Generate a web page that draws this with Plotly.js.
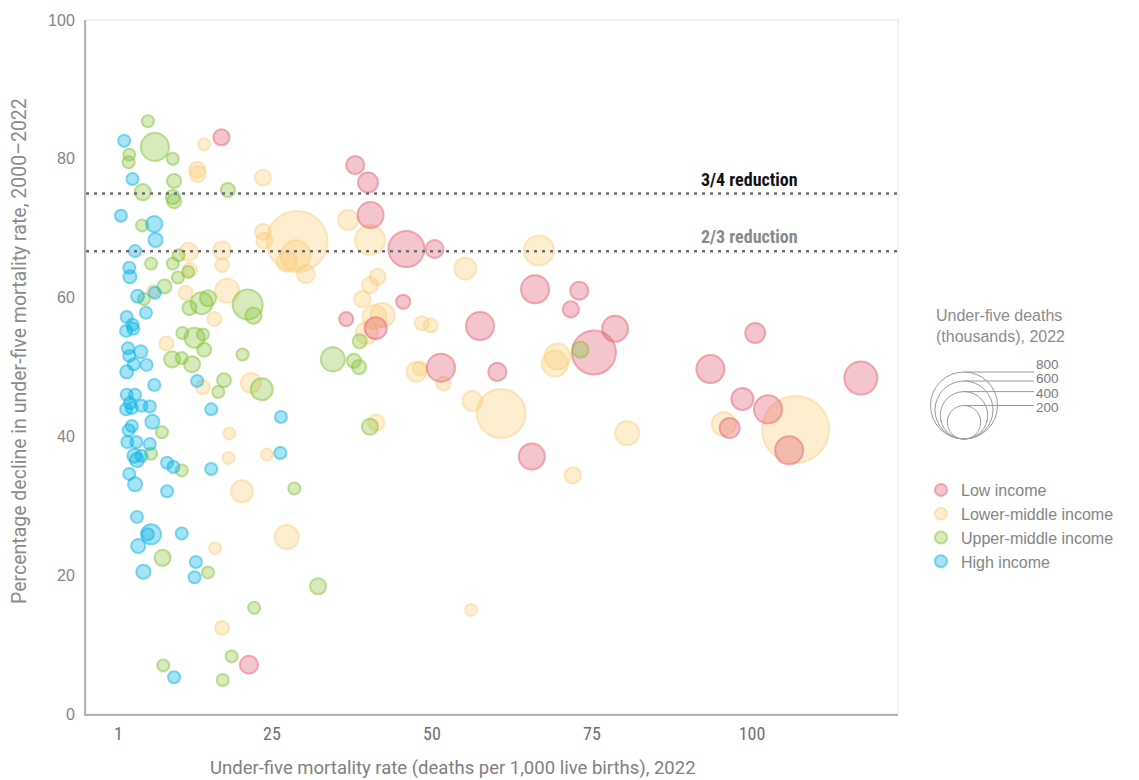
<!DOCTYPE html>
<html>
<head>
<meta charset="utf-8">
<script src="https://cdn.plot.ly/plotly-3.0.1.min.js"></script>
<style>
  html, body { margin: 0; padding: 0; background: #ffffff; }
  #chart { width: 1139px; height: 780px; }
</style>
</head>
<body>
<div id="chart"></div>
<script>
// ---------- Data ----------
// x: under-five mortality rate 2022 (deaths per 1,000 live births)
// y: percentage decline in under-five mortality rate 2000–2022
// deaths: under-five deaths 2022 (thousands)

const lowX = [17.1, 38.0, 40.0, 40.4, 46.0, 50.4, 45.5, 36.6, 41.2, 57.5, 71.7, 73.0, 66.1, 51.4, 60.2, 75.3, 78.6, 65.6, 100.5, 93.5, 117.0, 98.5, 102.5, 96.5, 105.8, 21.4];
const lowY = [83.1, 79.1, 76.6, 71.9, 67.0, 67.0, 59.4, 56.9, 55.6, 55.9, 58.3, 61.0, 61.2, 49.9, 49.3, 52.1, 55.5, 37.1, 54.9, 49.7, 48.4, 45.4, 43.9, 41.2, 38.0, 7.1];
const lowDeaths = [46, 58, 71, 120, 231, 58, 35, 35, 86, 140, 46, 58, 140, 140, 58, 345, 120, 120, 71, 140, 194, 86, 140, 71, 140, 58];

const lmX = [14.4, 13.3, 13.4, 23.6, 12.0, 17.2, 17.2, 12.2, 11.5, 18.0, 6.4, 16.0, 8.5, 21.7, 14.2, 23.6, 23.8, 36.9, 40.3, 28.9, 28.7, 27.3, 30.3, 55.2, 41.5, 40.3, 39.1, 41.0, 42.3, 48.4, 49.8, 39.8, 47.6, 48.1, 51.8, 56.3, 60.8, 69.2, 69.6, 80.5, 72.0, 41.3, 24.2, 18.3, 18.2, 20.3, 27.3, 16.1, 17.2, 56.1, 95.6, 66.7, 106.8];
const lmY = [82.1, 78.4, 77.8, 77.3, 66.6, 66.8, 64.7, 64.0, 60.7, 61.0, 60.9, 56.9, 53.4, 47.7, 47.1, 69.5, 68.2, 71.2, 68.3, 68.1, 66.1, 65.2, 63.4, 64.2, 63.0, 61.8, 59.8, 57.2, 57.5, 56.3, 56.0, 54.9, 49.3, 49.8, 47.6, 45.1, 43.3, 50.5, 51.5, 40.5, 34.4, 42.0, 37.4, 40.4, 36.9, 32.1, 25.5, 23.9, 12.4, 15.0, 41.8, 66.8, 41.0];
const lmDeaths = [10, 46, 46, 46, 58, 58, 35, 35, 35, 103, 10, 35, 35, 71, 35, 46, 46, 71, 160, 663, 160, 71, 58, 86, 46, 46, 46, 103, 103, 35, 35, 86, 71, 35, 35, 71, 428, 120, 120, 103, 46, 46, 10, 10, 10, 86, 103, 10, 35, 10, 103, 160, 800];

const umX = [5.6, 6.7, 2.7, 2.6, 9.5, 9.7, 4.8, 9.5, 9.7, 18.1, 4.7, 6.1, 9.5, 10.4, 10.3, 11.9, 8.2, 5.0, 14.0, 15.0, 12.1, 21.2, 22.1, 11.0, 12.9, 14.2, 14.4, 9.4, 10.9, 12.5, 20.4, 17.5, 16.6, 23.4, 7.8, 6.1, 10.9, 7.9, 15.0, 22.2, 18.7, 8.0, 17.3, 34.5, 37.8, 38.6, 38.7, 40.3, 28.5, 32.2, 73.2];
const umY = [85.4, 81.7, 80.6, 79.5, 80.0, 76.8, 75.2, 74.5, 73.9, 75.5, 70.4, 64.9, 64.9, 66.1, 62.9, 63.7, 61.6, 59.8, 59.2, 59.9, 58.5, 59.0, 57.4, 54.9, 54.2, 54.7, 52.5, 51.1, 51.3, 50.4, 51.8, 48.1, 46.4, 46.8, 40.6, 37.5, 35.1, 22.5, 20.4, 15.3, 8.3, 7.0, 4.9, 51.1, 50.9, 50.0, 53.7, 41.4, 32.5, 18.4, 52.5];
const umDeaths = [8, 140, 3, 4, 8, 35, 46, 35, 35, 35, 6, 7, 8, 9, 10, 12, 35, 6, 86, 46, 35, 160, 46, 10, 71, 12, 35, 46, 10, 46, 9, 35, 8, 86, 10, 7, 9, 46, 10, 8, 6, 5, 6, 103, 35, 35, 35, 46, 10, 46, 46];

const hiX = [1.9, 3.2, 1.4, 6.6, 6.8, 3.6, 2.7, 2.8, 4.0, 6.7, 5.3, 2.3, 3.2, 3.3, 2.2, 2.5, 4.5, 2.7, 3.4, 5.4, 2.3, 6.6, 13.3, 2.3, 3.6, 2.8, 2.2, 3.1, 4.6, 5.9, 15.5, 6.3, 3.1, 2.6, 2.4, 3.8, 5.9, 3.5, 3.9, 4.6, 8.6, 9.6, 15.5, 2.7, 3.6, 8.6, 3.9, 6.1, 5.6, 10.9, 4.1, 13.1, 4.9, 12.9, 9.7, 26.4, 26.3];
const hiY = [82.6, 77.1, 71.8, 70.6, 68.3, 66.7, 64.3, 63.0, 60.2, 60.7, 57.8, 57.2, 56.1, 55.5, 55.2, 52.7, 52.2, 51.6, 50.4, 50.3, 49.3, 47.4, 48.0, 46.0, 46.0, 44.8, 43.9, 44.1, 44.4, 44.3, 43.9, 42.1, 41.5, 40.9, 39.2, 39.2, 38.9, 37.2, 36.6, 37.2, 36.2, 35.6, 35.3, 34.6, 33.1, 32.1, 28.4, 25.9, 25.9, 26.0, 24.2, 21.9, 20.5, 19.7, 5.3, 42.8, 37.6];
const hiDeaths = [2, 3, 1, 46, 35, 5, 1, 30, 30, 10, 8, 2, 4, 6, 3, 2, 30, 3, 5, 7, 30, 6, 9, 2, 4, 3, 1, 4, 6, 5, 8, 35, 3, 2, 2, 4, 6, 35, 35, 5, 7, 6, 8, 2, 35, 4, 3, 71, 2, 5, 35, 4, 35, 3, 1, 5, 4];

const groupNames = ["Low income", "Lower-middle income", "Upper-middle income", "High income"];
const targetLevels = [75, 200 / 3];
const targetLabels = ["3/4 reduction", "2/3 reduction"];
const xTickVals = [1, 25, 50, 75, 100];
const yTickVals = [0, 20, 40, 60, 80, 100];
const xTitle = "Under-five mortality rate (deaths per 1,000 live births), 2022";
const yTitle = "Percentage decline in under-five mortality rate, 2000–2022";
const sizeLegendValues = [800, 600, 400, 200];
const sizeLegendTitle = "Under-five deaths<br>(thousands), 2022";

// ---------- Styling ----------
const MAX_DEATHS = 800;
const MAX_DIAM = 67;
const SIZEREF = 2 * MAX_DEATHS / (MAX_DIAM * MAX_DIAM);
const SIZEMIN = 6;

const styles = {
  "Low income":          { fill: "rgba(228,92,114,0.5)",  line: "rgba(228,92,114,0.75)", rank: 1 },
  "Lower-middle income": { fill: "rgba(251,204,115,0.47)", line: "rgba(251,200,110,0.62)", rank: 2 },
  "Upper-middle income": { fill: "rgba(140,198,63,0.5)",  line: "rgba(130,192,50,0.75)", rank: 3 },
  "High income":         { fill: "rgba(0,178,230,0.5)",   line: "rgba(0,178,230,0.75)",  rank: 4 }
};

function bubbleTrace(name, xs, ys, ds) {
  const s = styles[name];
  return {
    type: "scatter", mode: "markers", name: name,
    x: xs, y: ys,
    legendrank: s.rank,
    hoverinfo: "skip",
    marker: {
      size: ds, sizemode: "area", sizeref: SIZEREF, sizemin: SIZEMIN,
      color: s.fill,
      line: { color: s.line, width: 2 }
    }
  };
}

// drawing order: lower-middle, low, upper-middle, high
const traces = [
  bubbleTrace(groupNames[1], lmX, lmY, lmDeaths),
  bubbleTrace(groupNames[0], lowX, lowY, lowDeaths),
  bubbleTrace(groupNames[2], umX, umY, umDeaths),
  bubbleTrace(groupNames[3], hiX, hiY, hiDeaths)
];

const NARROW = "'Liberation Sans Narrow', 'Roboto Condensed', Roboto, sans-serif";
const WIDE = "'Liberation Sans', Arial, sans-serif";
const ROBOTO = "Roboto, 'Liberation Sans', sans-serif";

// plot area geometry in px (for items placed in the margins)
const PL = 86, PR = 898, PT = 20, PB = 714;
const PW = PR - PL, PH = PB - PT;
const px2paperX = px => (px - PL) / PW;
const px2paperY = py => (PB - py) / PH;

const shapes = [];
const annotations = [];

// frame
shapes.push({ type: "rect", xref: "paper", yref: "paper", x0: 0, x1: 1, y0: 0, y1: 1,
  line: { color: "#e3e3e3", width: 1 }, layer: "below" });

// axis titles (placed as in the reference, offset from plot centre)
annotations.push({ xref: "paper", yref: "paper", x: px2paperX(453), y: px2paperY(768),
  xanchor: "center", yanchor: "middle", showarrow: false, text: xTitle,
  font: { family: ROBOTO, size: 18.5, color: "#808080" } });
annotations.push({ xref: "paper", yref: "paper", x: px2paperX(19), y: px2paperY(351),
  xanchor: "center", yanchor: "middle", textangle: -90, showarrow: false, text: yTitle,
  font: { family: ROBOTO, size: 19.5, color: "#8a8a8a" } });

// target lines + labels
targetLevels.forEach((lvl, i) => {
  shapes.push({ type: "line", xref: "paper", yref: "y", x0: 0, x1: 1, y0: lvl, y1: lvl,
    line: { color: "#6e6e6e", width: 2.5, dash: "3px,5px" }, layer: "above" });
  annotations.push({ xref: "paper", yref: "y", x: px2paperX(749), y: lvl,
    xanchor: "center", yanchor: "bottom", yshift: 2,
    text: "<b>" + targetLabels[i] + "</b>", showarrow: false,
    font: { family: NARROW, size: 18, color: i === 0 ? "#111111" : "#8a8a8a" } });
});

// size legend
const slCx = px2paperX(964);
const slBottom = px2paperY(439);
const slLineEnd = px2paperX(1034);
annotations.push({ xref: "paper", yref: "paper", x: px2paperX(934), y: px2paperY(305),
  xanchor: "left", yanchor: "top", align: "left", showarrow: false,
  text: sizeLegendTitle, font: { family: WIDE, size: 16, color: "#8c8c8c" } });
sizeLegendValues.forEach((v, i) => {
  const r = Math.sqrt(v / (2 * SIZEREF));
  shapes.push({ type: "circle", xref: "paper", yref: "paper",
    xsizemode: "pixel", ysizemode: "pixel", xanchor: slCx, yanchor: slBottom,
    x0: -r, x1: r, y0: 0, y1: 2 * r,
    line: { color: "#9a9a9a", width: 1 }, fillcolor: "rgba(0,0,0,0)" });
  shapes.push({ type: "line", xref: "paper", yref: "paper",
    ysizemode: "pixel", yanchor: slBottom,
    x0: slCx, x1: slLineEnd, y0: 2 * r, y1: 2 * r,
    line: { color: "#9a9a9a", width: 1 } });
  annotations.push({ xref: "paper", yref: "paper", x: px2paperX(1035), y: px2paperY(364 + i * 14.5),
    xanchor: "left", yanchor: "middle", showarrow: false, text: String(v),
    borderpad: 0, font: { family: WIDE, size: 13.5, color: "#7a7a7a" } });
});

const layout = {
  width: 1139, height: 780,
  margin: { l: PL, r: 1139 - PR, t: PT, b: 780 - PB, pad: 0 },
  paper_bgcolor: "#ffffff", plot_bgcolor: "#ffffff",
  showlegend: true,
  legend: {
    x: px2paperX(921), y: px2paperY(473), xanchor: "left", yanchor: "top",
    traceorder: "normal", itemsizing: "constant",
    font: { family: WIDE, size: 16, color: "#858585" },
    bgcolor: "rgba(0,0,0,0)", tracegroupgap: 0
  },
  xaxis: {
    range: [1 + (PL - 118.4) / 6.4, 1 + (PR - 118.4) / 6.4],
    tickvals: xTickVals, ticktext: xTickVals.map(String),
    showgrid: false, zeroline: false,
    showline: true, linecolor: "#b5b5b5", linewidth: 2,
    ticks: "", ticklabelstandoff: 2,
    tickfont: { family: NARROW, size: 18, color: "#707070" }
  },
  yaxis: {
    range: [0, 100],
    tickvals: yTickVals,
    showgrid: false, zeroline: false,
    showline: true, linecolor: "#b5b5b5", linewidth: 2,
    ticks: "", ticklabelstandoff: 6,
    tickfont: { family: WIDE, size: 16, color: "#858585" }
  },
  shapes: shapes,
  annotations: annotations
};

Plotly.newPlot("chart", traces, layout, { displayModeBar: false, staticPlot: true });
</script>
</body>
</html>
